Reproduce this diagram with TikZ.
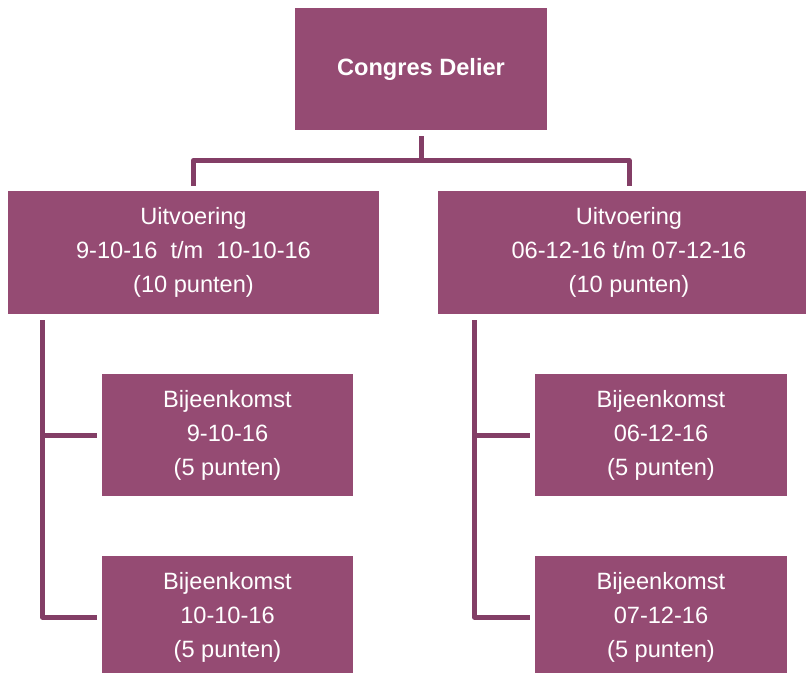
\documentclass[tikz,border=0pt]{standalone}
\usepackage{fontspec}
\setmainfont{Liberation Sans}
\definecolor{berry}{HTML}{954B73}
\definecolor{berryline}{HTML}{833E66}
\begin{document}
\begin{tikzpicture}[x=0.75pt,y=-0.75pt,
	box/.style={fill=berry,text=white,inner sep=0pt,align=center,
		font=\fontsize{17.7}{25.5}\selectfont},
	link/.style={draw=berryline,line width=3.75pt,line join=round}]
	\useasboundingbox (0,0) rectangle (806,673);
	% hoofdblok
	\node[box,minimum width=189pt,minimum height=91.5pt,font=\fontsize{17.7}{25.5}\selectfont\bfseries] (top) at (421,69) {Congres Delier};
	% uitvoeringen
	\node[box,minimum width=278.25pt,minimum height=92.25pt] (uitv1) at (193.5,252.5) {Uitvoering\\9-10-16~~t/m~~10-10-16\\(10 punten)};
	\node[box,minimum width=286.5pt,minimum height=92.25pt] (uitv2) at (629,252.5) {Uitvoering\\06-12-16 t/m 07-12-16\\(10 punten)};
	% bijeenkomsten
	\node[box,minimum width=188.25pt,minimum height=91.5pt] (bij1a) at (227.5,435) {Bijeenkomst\\9-10-16\\(5 punten)};
	\node[box,minimum width=188.25pt,minimum height=91.5pt] (bij1b) at (227.5,617) {Bijeenkomst\\10-10-16\\(5 punten)};
	\node[box,minimum width=189pt,minimum height=91.5pt] (bij2a) at (661,435) {Bijeenkomst\\06-12-16\\(5 punten)};
	\node[box,minimum width=189pt,minimum height=91.5pt] (bij2b) at (661,617) {Bijeenkomst\\07-12-16\\(5 punten)};
	% verbindingen
	\draw[link] ([yshift=-4.5pt]top.south) -- ++(0,24) coordinate (split) -| ([yshift=3.75pt]uitv1.north);
	\draw[link] (split) -| ([yshift=3.75pt]uitv2.north);
	\draw[link] (uitv1.south west) ++(34.5,6) |- ([xshift=-3.75pt]bij1a.west);
	\draw[link] (uitv1.south west) ++(34.5,6) |- ([xshift=-3.75pt]bij1b.west);
	\draw[link] (uitv2.south west) ++(36.5,6) |- ([xshift=-3.75pt]bij2a.west);
	\draw[link] (uitv2.south west) ++(36.5,6) |- ([xshift=-3.75pt]bij2b.west);
\end{tikzpicture}
\end{document}
